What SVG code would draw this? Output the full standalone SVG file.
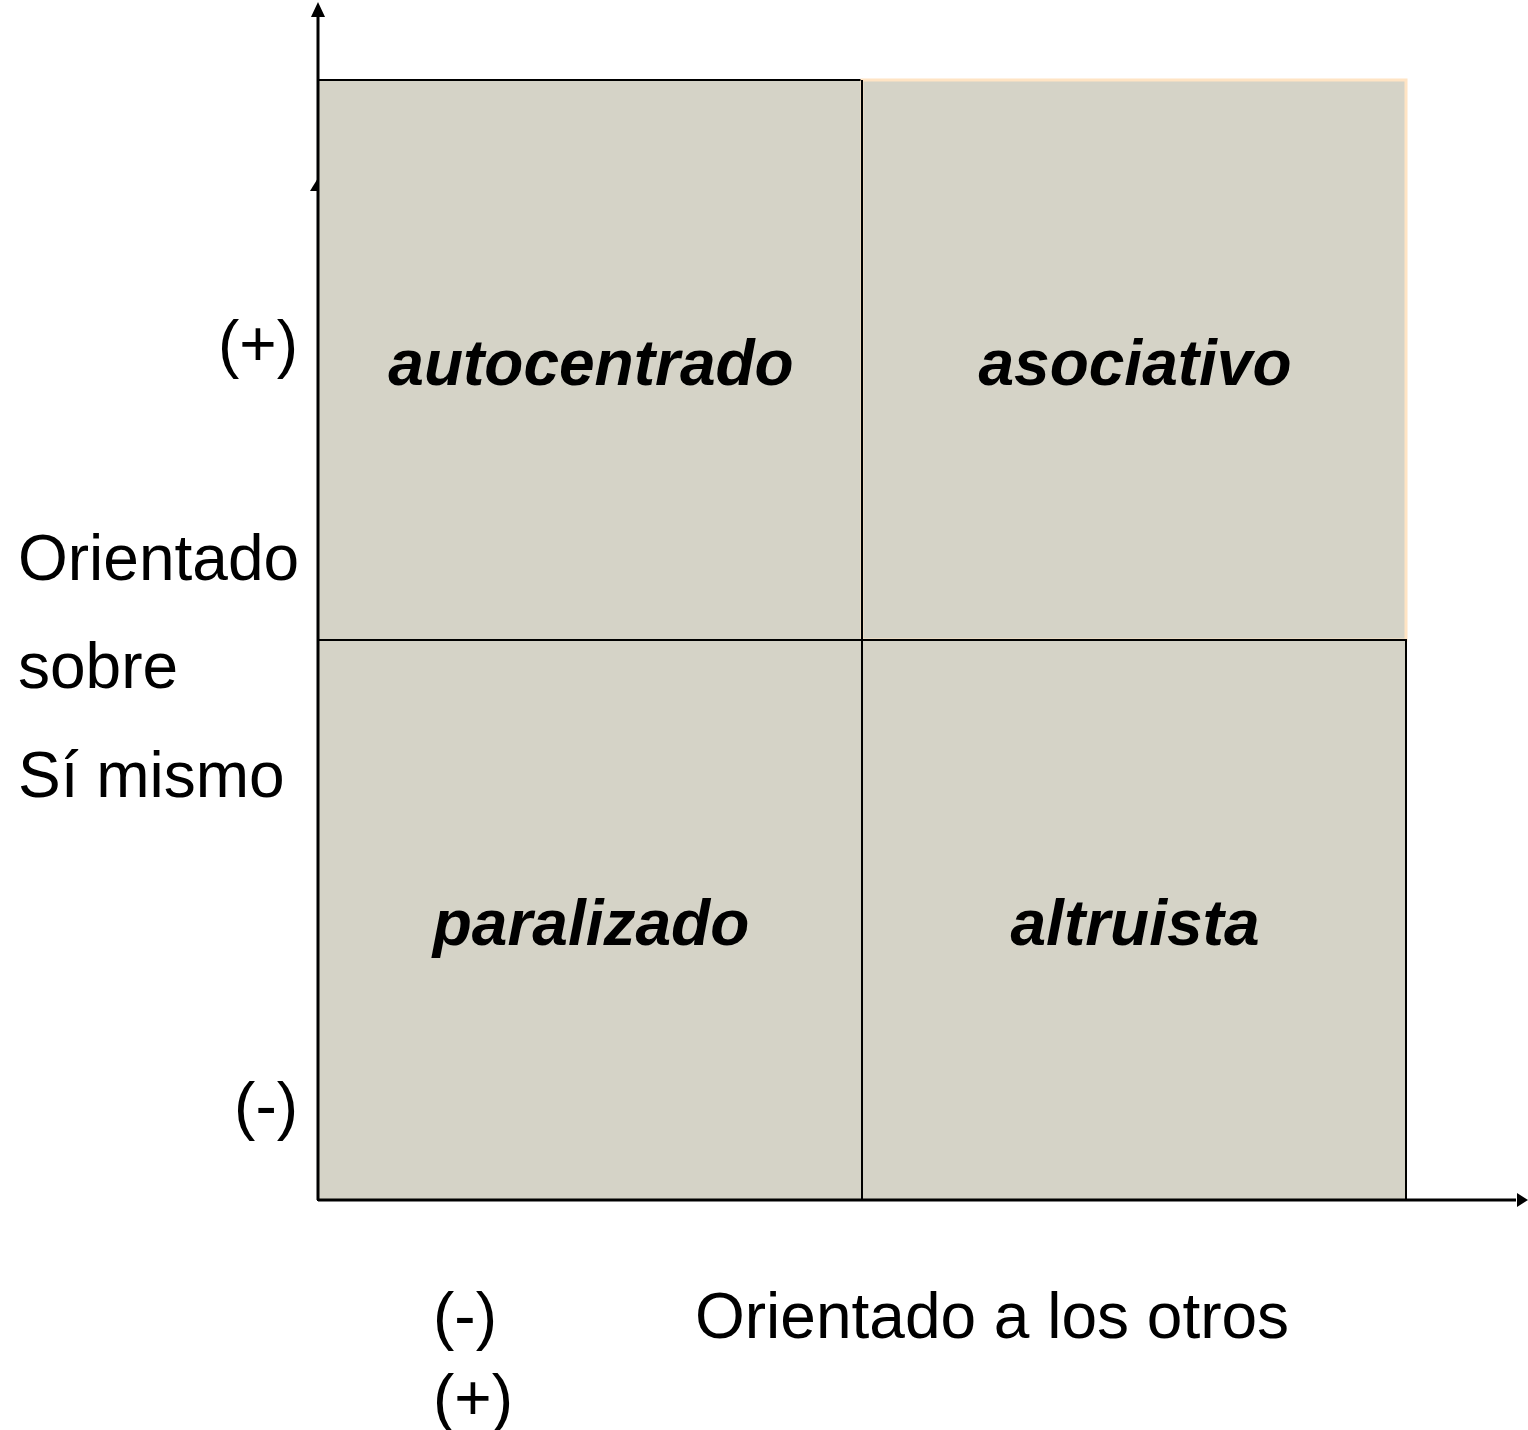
<svg xmlns="http://www.w3.org/2000/svg" width="1528" height="1430" viewBox="0 0 1528 1430">
<style>
.cell{fill:#D5D3C7;stroke:#000;stroke-width:2}
.q{font-family:"Liberation Sans",Arial,sans-serif;font-size:64px;font-weight:bold;font-style:italic;fill:#000;text-anchor:middle}
.t{font-family:"Liberation Sans",Arial,sans-serif;font-size:64px;fill:#000}
.ax{stroke:#000;stroke-width:3;fill:none}
</style>
<rect width="1528" height="1430" fill="#fff"/>
<g id="quad-autocentrado"><rect class="cell" x="318" y="80" width="544" height="560"/><text class="q" x="591" y="385">autocentrado</text></g>
<g id="quad-asociativo"><rect x="862" y="80" width="544" height="560" fill="#D5D3C7" stroke="#FFE4C4" stroke-width="3"/><line x1="862" y1="80" x2="862" y2="640" stroke="#000" stroke-width="2"/><text class="q" x="1135" y="385">asociativo</text></g>
<g id="quad-paralizado"><rect class="cell" x="318" y="640" width="544" height="560"/><text class="q" x="591" y="945">paralizado</text></g>
<g id="quad-altruista"><rect class="cell" x="862" y="640" width="544" height="560"/><text class="q" x="1135" y="945">altruista</text></g>
<g id="connectors">
<line class="ax" x1="318" y1="1200" x2="318" y2="14"/>
<polygon points="318,2 311,17 325,17" fill="#000"/>
<polygon points="318,178 310,191 318,191" fill="#000"/>
<line class="ax" x1="318" y1="1200" x2="1516" y2="1200"/>
<polygon points="1528,1200 1517,1193 1517,1207" fill="#000"/>
</g>
<g id="labels">
<text class="t" x="298" y="366" text-anchor="end">(+)</text>
<text class="t" x="18" y="580">Orientado</text>
<text class="t" x="18" y="688">sobre</text>
<text class="t" x="18" y="797">Sí mismo</text>
<text class="t" x="298" y="1128" text-anchor="end">(-)</text>
<text class="t" x="433" y="1338">(-)</text>
<text class="t" x="695" y="1338">Orientado a los otros</text>
<text class="t" x="433" y="1420">(+)</text>
</g>
</svg>
